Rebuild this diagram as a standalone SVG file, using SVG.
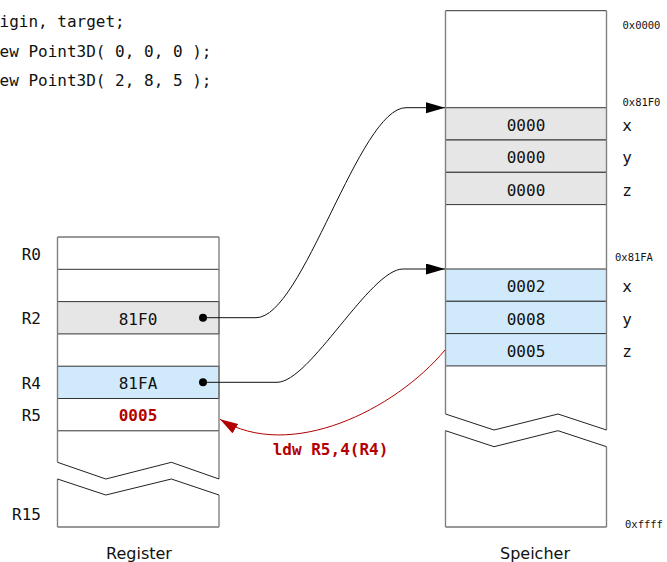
<svg xmlns="http://www.w3.org/2000/svg" width="667" height="562" viewBox="0 0 667 562">
<defs>
<style>
.mono{font-family:"DejaVu Sans Mono","Liberation Mono",monospace;font-size:16px;fill:#111}
.small{font-family:"DejaVu Sans Mono","Liberation Mono",monospace;font-size:10.5px;fill:#111}
.sans{font-family:"DejaVu Sans","Liberation Sans",sans-serif;font-size:16px;fill:#111}
.red{fill:#b30000;font-weight:bold}
.edge{fill:none;stroke:#808080;stroke-width:1.4}
.row{stroke:#333;stroke-width:1}
.gray{fill:#e6e6e6;stroke:#333;stroke-width:1}
.blue{fill:#d0eafb;stroke:#333;stroke-width:1}
.zig{fill:none;stroke:#222;stroke-width:1}
.conn{fill:none;stroke:#111;stroke-width:1}
.redconn{fill:none;stroke:#b30000;stroke-width:1}
</style>
<marker id="ah" markerUnits="userSpaceOnUse" markerWidth="20" markerHeight="12" refX="19" refY="5.5" orient="auto">
<path d="M0,0 L19,5.5 L0,11 z" fill="#000"/>
</marker>
<marker id="ahr" markerUnits="userSpaceOnUse" markerWidth="20" markerHeight="12" refX="18" refY="5.5" orient="auto">
<path d="M0,0 L18,5.5 L0,11 z" fill="#b30000"/>
</marker>
</defs>
<rect width="667" height="562" fill="#fff"/>

<g id="code" class="mono">
<text x="-0.5" y="27">igin, target;</text>
<text x="-0.5" y="56.5">ew Point3D( 0, 0, 0 );</text>
<text x="-0.5" y="85.5">ew Point3D( 2, 8, 5 );</text>
</g>

<g id="register">
<rect x="57.5" y="301.6" width="161.5" height="32.3" class="gray"/>
<rect x="57.5" y="366.2" width="161.5" height="32.3" class="blue"/>
<line x1="57.5" y1="237" x2="219" y2="237" class="row"/>
<line x1="57.5" y1="269.3" x2="219" y2="269.3" class="row"/>
<line x1="57.5" y1="430.8" x2="219" y2="430.8" class="row"/>
<line x1="57.5" y1="527" x2="219" y2="527" class="row"/>
<path d="M57.5,237 V462.3 M219,237 V479 M57.5,479 V527 M219,495 V527" class="edge"/>
<path d="M57.5,462.3 L105.8,479 L171.4,462.3 L219,479 M57.5,479 L105.8,495 L171.4,479 L219,495" class="zig"/>
<g class="mono" text-anchor="end">
<text x="41" y="259.5">R0</text>
<text x="41" y="324">R2</text>
<text x="41" y="388.5">R4</text>
<text x="41" y="421">R5</text>
<text x="41" y="520">R15</text>
</g>
<g class="mono" text-anchor="middle">
<text x="138" y="324.5">81F0</text>
<text x="138" y="389">81FA</text>
<text x="138" y="421" class="mono red">0005</text>
</g>
<circle cx="203" cy="317.7" r="4" fill="#000"/>
<circle cx="203" cy="382.3" r="4" fill="#000"/>
<text x="139" y="558.5" class="sans" text-anchor="middle">Register</text>
</g>

<g id="memory">
<rect x="445.5" y="107.7" width="161" height="32.3" class="gray"/>
<rect x="445.5" y="140" width="161" height="32.3" class="gray"/>
<rect x="445.5" y="172.3" width="161" height="32.3" class="gray"/>
<rect x="445.5" y="269" width="161" height="32.3" class="blue"/>
<rect x="445.5" y="301.3" width="161" height="32.3" class="blue"/>
<rect x="445.5" y="333.6" width="161" height="32.3" class="blue"/>
<line x1="445.5" y1="10.7" x2="606.5" y2="10.7" class="row"/>
<line x1="445.5" y1="527" x2="606.5" y2="527" class="row"/>
<path d="M445.5,10.7 V414 M606.5,10.7 V430 M445.5,430.7 V527 M606.5,446.7 V527" class="edge"/>
<path d="M445.5,414 L494,430 L558,414 L606.5,430 M445.5,430.7 L494,446.7 L558,430.7 L606.5,446.7" class="zig"/>
<g class="mono" text-anchor="middle">
<text x="526" y="131">0000</text>
<text x="526" y="163.3">0000</text>
<text x="526" y="195.5">0000</text>
<text x="526" y="292.3">0002</text>
<text x="526" y="324.5">0008</text>
<text x="526" y="356.9">0005</text>
<text x="627" y="131">x</text>
<text x="627" y="163.3">y</text>
<text x="627" y="195.5">z</text>
<text x="627" y="292.3">x</text>
<text x="627" y="324.5">y</text>
<text x="627" y="356.9">z</text>
</g>
<g class="small">
<text x="622.5" y="28.5">0x0000</text>
<text x="622.5" y="105.5">0x81F0</text>
<text x="615" y="261">0x81FA</text>
<text x="625" y="527.5">0xffff</text>
</g>
<text x="535" y="558.5" class="sans" text-anchor="middle">Speicher</text>
</g>

<g id="connectors">
<path d="M203,317.7 H256 C303,317.7 359,107.7 406,107.7 H445" class="conn" marker-end="url(#ah)"/>
<path d="M203,382.3 H277 C310,382.3 370,269 403,269 H445" class="conn" marker-end="url(#ah)"/>
<path d="M445,350 C395,410 290,462 220,419.3" class="redconn" marker-end="url(#ahr)"/>
<text x="330.5" y="455" class="mono red" text-anchor="middle">ldw R5,4(R4)</text>
</g>
</svg>
